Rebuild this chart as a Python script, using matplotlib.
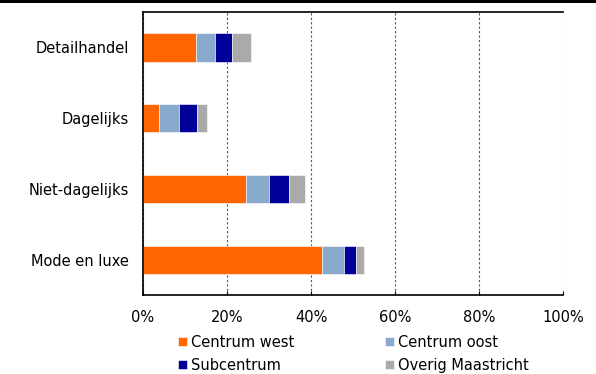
import numpy as np
import matplotlib.pyplot as plt
from matplotlib.patches import Rectangle
from matplotlib.ticker import PercentFormatter

categories = ['Detailhandel', 'Dagelijks', 'Niet-dagelijks', 'Mode en luxe']
series = ['Centrum west', 'Centrum oost', 'Subcentrum', 'Overig Maastricht']
centrum_west = [12.6, 3.8, 24.6, 42.5]
centrum_oost = [4.6, 4.8, 5.3, 5.3]
subcentrum = [4.0, 4.3, 4.8, 2.8]
overig = [4.5, 2.4, 3.8, 1.9]
colors = ['#FF6600', '#88AACC', '#000099', '#AAAAAA']

fs = 10.5
fig = plt.figure(figsize=(5.96, 3.74), dpi=100)
ax = fig.add_axes([0.240, 0.211, 0.705, 0.757])

# balk boven in de figuur
fig.add_artist(Rectangle((0, 0.993), 1, 0.007, transform=fig.transFigure,
                         color='black', lw=0))

y = np.arange(len(categories))
left = np.zeros(len(categories))
handles = []
for name, vals, c in zip(series, [centrum_west, centrum_oost, subcentrum, overig], colors):
    b = ax.barh(y, vals, left=left, height=0.4, color=c, edgecolor='white',
                linewidth=0.4, label=name)
    handles.append(b)
    left += np.array(vals)

ax.set_xlim(0, 100)
ax.set_ylim(3.5, -0.5)
ax.set_yticks(y)
ax.set_yticklabels(categories, fontsize=fs)
ax.set_xticks(range(0, 101, 20))
ax.xaxis.set_major_formatter(PercentFormatter(decimals=0))
ax.tick_params(axis='x', direction='in', length=3, labelsize=fs, pad=11)
ax.tick_params(axis='y', length=0, pad=10)

ax.grid(axis='x', color='#555555', linestyle=(0, (2, 2)), linewidth=0.8)
ax.set_axisbelow(True)
for s in ['left', 'bottom', 'top']:
    ax.spines[s].set_color('black')
    ax.spines[s].set_linewidth(1.2)
ax.spines['right'].set_visible(False)

order = [0, 2, 1, 3]
fig.legend([handles[i] for i in order], [series[i] for i in order],
           loc='lower left', bbox_to_anchor=(0.277, -0.032), ncol=2,
           frameon=False, fontsize=fs, handlelength=0.6, handleheight=0.6,
           handletextpad=0.3, columnspacing=6.2, labelspacing=0.55)

fig.savefig('out.png', dpi=100)
